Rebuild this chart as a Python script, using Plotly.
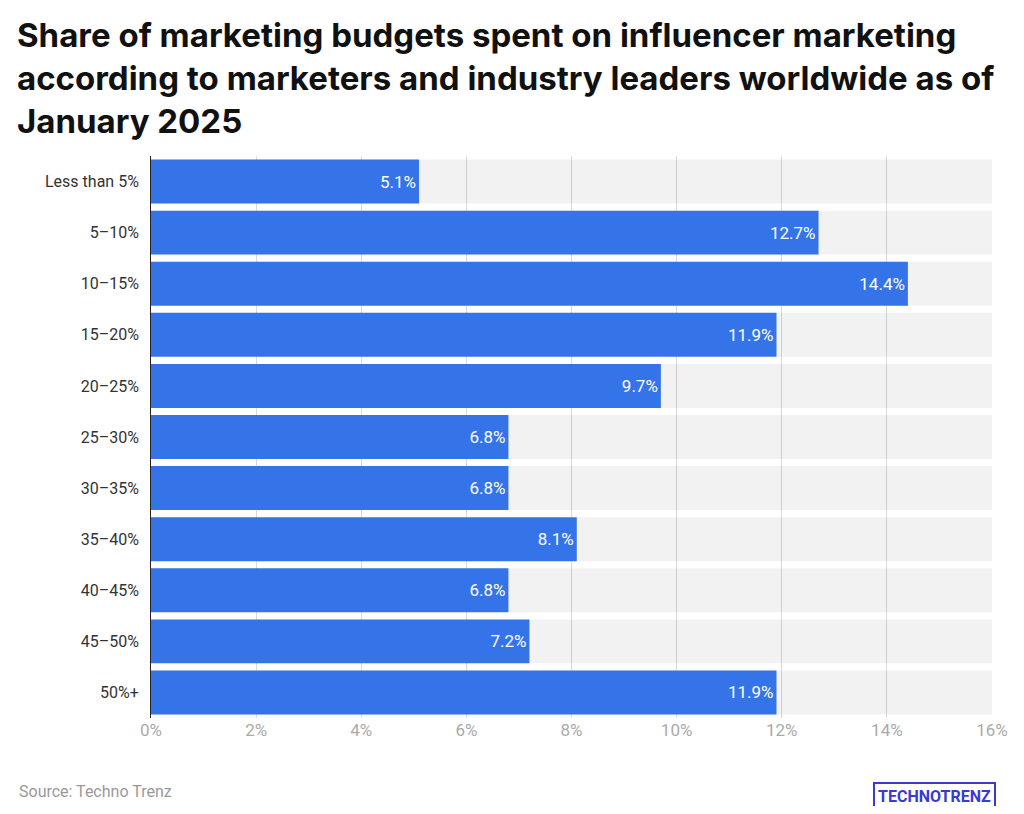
import plotly.graph_objects as go

categories = ["Less than 5%", "5–10%", "10–15%", "15–20%", "20–25%", "25–30%",
              "30–35%", "35–40%", "40–45%", "45–50%", "50%+"]
shares = [5.1, 12.7, 14.4, 11.9, 9.7, 6.8, 6.8, 8.1, 6.8, 7.2, 11.9]
axis_max = 16
tick_vals = [0, 2, 4, 6, 8, 10, 12, 14, 16]
tick_text = [f"{v}%" for v in tick_vals]

fig = go.Figure()
fig.add_trace(go.Bar(
    y=categories, x=[axis_max] * len(categories), orientation="h",
    marker=dict(color="rgba(0,0,0,0.05)", line_width=0),
    hoverinfo="skip", showlegend=False,
))
fig.add_trace(go.Bar(
    y=categories, x=shares, orientation="h",
    marker=dict(color="#3574e8", line_width=0),
    text=[f"{v}%" for v in shares], textposition="inside",
    insidetextanchor="end", textfont=dict(color="white", size=17, family="Roboto"),
    showlegend=False,
))

fig.update_layout(
    barmode="overlay", bargap=0.14,
    paper_bgcolor="white", plot_bgcolor="white",
    font=dict(family="Roboto", color="#333"),
    margin=dict(l=143, r=24, t=148, b=88),
    xaxis=dict(range=[0, axis_max], tickvals=tick_vals, ticktext=tick_text,
               showgrid=True, gridcolor="#d9d9d9", gridwidth=1, zeroline=False,
               tickfont=dict(size=17, color="#aaa"), automargin=False,
               ticklabeloverflow="allow"),
    yaxis=dict(autorange="reversed", showline=True, linecolor="#222", linewidth=1,
               ticks="", ticksuffix="  ", tickfont=dict(size=16, color="#333"),
               automargin=False),
    annotations=[
        dict(text="<b>Share of marketing budgets spent on influencer marketing<br>"
                  "according to marketers and industry leaders worldwide as of<br>January 2025</b>",
             x=-136 / 844, y=1 + 141 / 556, xref="paper", yref="paper", align="left",
             xanchor="left", yanchor="top", showarrow=False,
             font=dict(size=33, color="#111", family="Inter")),
        dict(text="Source: Techno Trenz", x=-0.159, y=-0.131, xref="paper", yref="paper",
             xanchor="left", yanchor="middle", showarrow=False,
             font=dict(size=16, color="#999")),
        dict(text="<b>TECHNOTRENZ</b>", x=1.005, y=-0.14, xref="paper", yref="paper",
             xanchor="right", yanchor="middle", showarrow=False,
             font=dict(size=16, color="#3a3ad0"), bordercolor="#3a3ad0",
             borderwidth=2, borderpad=3),
    ],
)
fig.write_html("out.html")
